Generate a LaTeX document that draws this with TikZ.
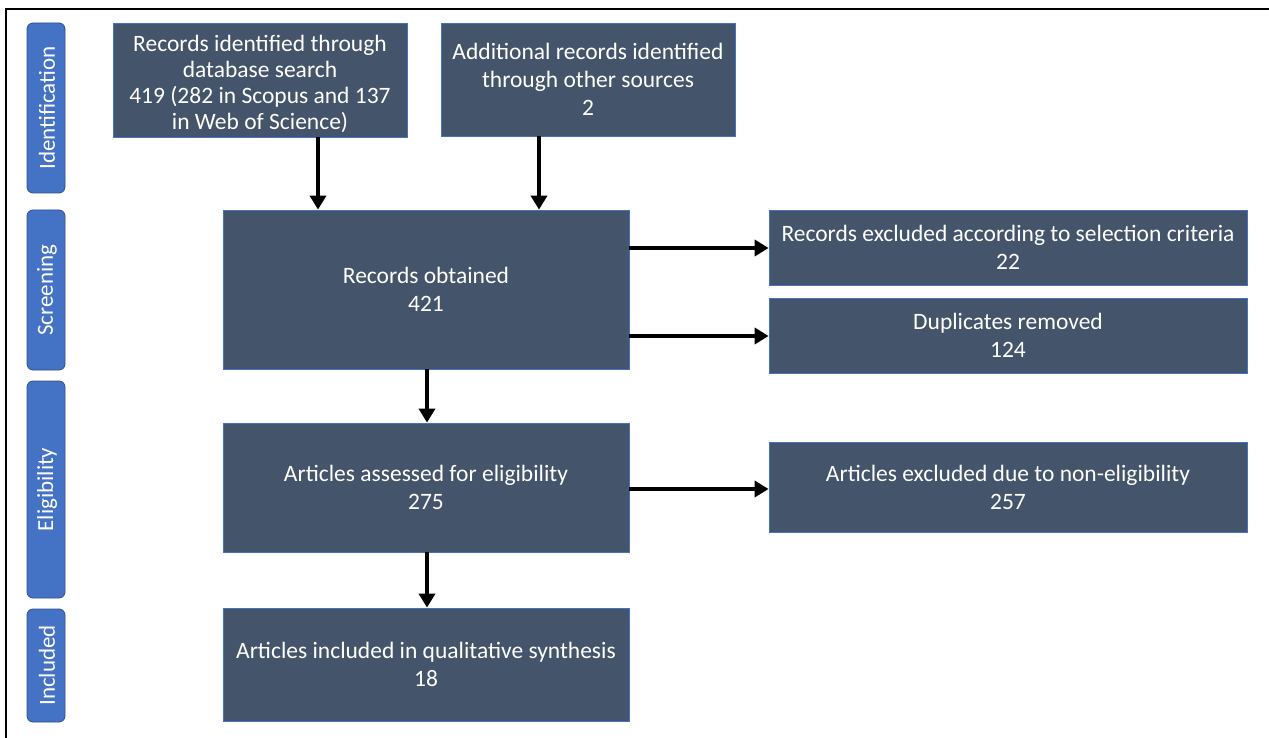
\documentclass[tikz,border=0pt]{standalone}
\usepackage{fontspec}
\setmainfont{Carlito}
\usetikzlibrary{arrows.meta}
\definecolor{boxfill}{HTML}{44546A}
\definecolor{boxline}{HTML}{4472C4}
\definecolor{phasefill}{HTML}{4472C4}
\definecolor{phaseline}{HTML}{2F528F}
\begin{document}
\begin{tikzpicture}[x=1pt,y=-1pt,
  box/.style={draw=boxline,fill=boxfill,line width=0.8pt,text=white,align=center,inner sep=0pt,
    font=\fontsize{23.5}{28}\selectfont},
  phase/.style={draw=phaseline,fill=phasefill,line width=0.8pt,rounded corners=6pt},
  arr/.style={line width=4.5pt,-{Triangle[width=16pt,length=14pt]}}]
\useasboundingbox (0,0) rectangle (1269,738);
\fill[white] (0,0) rectangle (1269,738);
\draw[line width=1.5pt] (6,738) -- (6,9) -- (1269,9);
% phase labels
\foreach \n/\t/\a/\b in {id/Identification/23/193, sc/Screening/210/370, el/Eligibility/381/598, in/Included/609/722}{
  \draw[phase] (27,\a) rectangle (65,\b);
  \node[text=white,rotate=90,font=\fontsize{23}{26}\selectfont] (\n) at (47,{(\a+\b)/2}) {\t};
}
% boxes
\node[box,minimum width=294pt,minimum height=114pt] (db) at (260,80) {};
\node[text=white,align=center,inner sep=0pt,font=\fontsize{23.5}{26}\selectfont] (dbt) at ([yshift=-4pt]db.center) {Records identified through\\database search\\419 (282 in Scopus and 137\\in Web of Science)};
\node[box,minimum width=294pt,minimum height=113pt] (other) at (588,79.5) {Additional records identified\\through other sources\\2};
\node[box,minimum width=406pt,minimum height=159pt] (obt) at (426,289.5) {Records obtained\\421};
\node[box,minimum width=478pt,minimum height=75pt] (excl) at (1008,247.5) {Records excluded according to selection criteria\\22};
\node[box,minimum width=478pt,minimum height=75pt] (dup) at (1008,335.5) {Duplicates removed\\124};
\node[box,minimum width=406pt,minimum height=129pt] (ass) at (426,487.5) {Articles assessed for eligibility\\275};
\node[box,minimum width=478pt,minimum height=90pt] (nel) at (1008,487) {Articles excluded due to non-eligibility\\257};
\node[box,minimum width=406pt,minimum height=113pt] (inc) at (426,664.5) {Articles included in qualitative synthesis\\18};
% arrows
\draw[arr] (db.south -| 318,0) -- (obt.north -| 318,0);
\draw[arr] (other.south -| 539,0) -- (obt.north -| 539,0);
\draw[arr] (obt.east |- 0,248) -- (excl.west |- 0,248);
\draw[arr] (obt.east |- 0,336) -- (dup.west |- 0,336);
\draw[arr] (obt.south -| 427,0) -- (ass.north -| 427,0);
\draw[arr] (ass.east |- 0,489) -- (nel.west |- 0,489);
\draw[arr] (ass.south -| 427,0) -- (inc.north -| 427,0);
\end{tikzpicture}
\end{document}
